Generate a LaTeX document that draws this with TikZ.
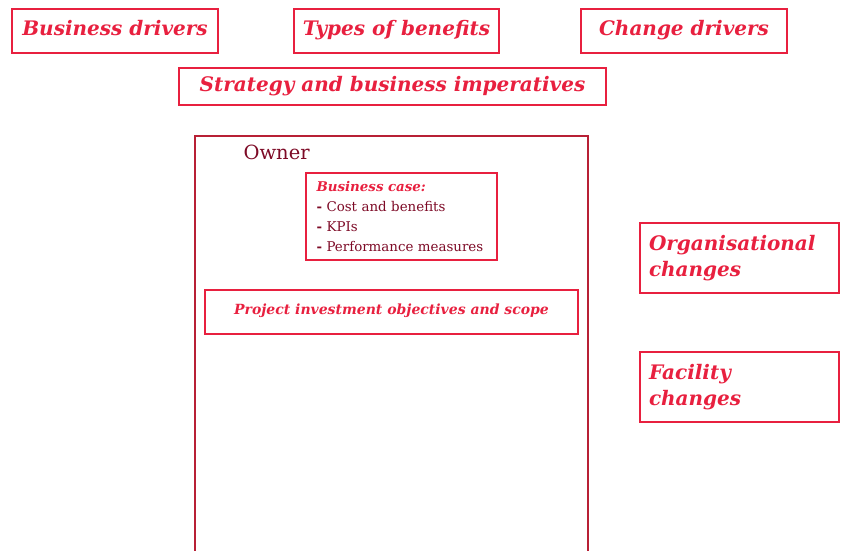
\documentclass[tikz,border=0pt]{standalone}
\usepackage{fontspec}
\setmainfont{DejaVu Serif}
\usepackage{tikz}
\usetikzlibrary{backgrounds}
\definecolor{pwcred}{HTML}{E8203F}
\definecolor{ownerred}{HTML}{7D0A26}
\definecolor{ownerline}{HTML}{B82035}
\tikzset{
  redbox/.style={draw=pwcred, line width=2pt, anchor=north west},
  titlebox/.style={redbox, minimum height=44pt, text=pwcred, text height=1.15em, text depth=0.22em,
    font=\fontsize{20}{24}\selectfont\bfseries\itshape},
  sidebox/.style={redbox, minimum height=70pt, text width=181pt, inner xsep=9pt,
    align=left, text=pwcred, font=\fontsize{20}{26}\selectfont\bfseries\itshape},
  casebox/.style={redbox, minimum height=87pt, text width=170pt, inner xsep=10.5pt,
    align=left, text=ownerred, font=\fontsize{13.4}{20}\selectfont},
  ownerbox/.style={draw=ownerline, line width=2pt, anchor=north west,
    minimum width=393pt, minimum height=440pt},
}
\begin{document}
\begin{tikzpicture}[x=1pt,y=-1pt]
\useasboundingbox (0,0) rectangle (841,551);
% top row
\node[titlebox, minimum width=206pt] (busdrivers) at (11,8) {Business drivers};
\node[titlebox, minimum width=205pt] (benefits) at (293,8) {Types of benefits};
\node[titlebox, minimum width=206pt] (changedrivers) at (580,8) {Change drivers};
\node[titlebox, minimum width=427pt, minimum height=37pt] (strategy) at (178,67)
  {Strategy and business imperatives};
% owner frame
\node[ownerbox] (owner) at (194,135) {};
\node[anchor=west, text=ownerred, font=\fontsize{19.5}{22}\selectfont] (ownertext) at (240,152) {Owner};
\node[casebox, minimum width=191pt] (buscase) at (305,172) {%
  \textcolor{pwcred}{\bfseries\itshape Business case:}\\
  \textbf{-} Cost and benefits\\
  \textbf{-} KPIs\\
  \textbf{-} Performance measures};
\node[titlebox, minimum width=373pt, text height=0.8em, font=\fontsize{14}{16}\selectfont\bfseries\itshape] (scope) at (204,289)
  {Project investment objectives and scope};
% changes
\node[sidebox] (orgchanges) at (639,222) {Organisational\\changes};
\node[sidebox] (facchanges) at (639,351) {Facility\\changes};
\end{tikzpicture}
\end{document}
